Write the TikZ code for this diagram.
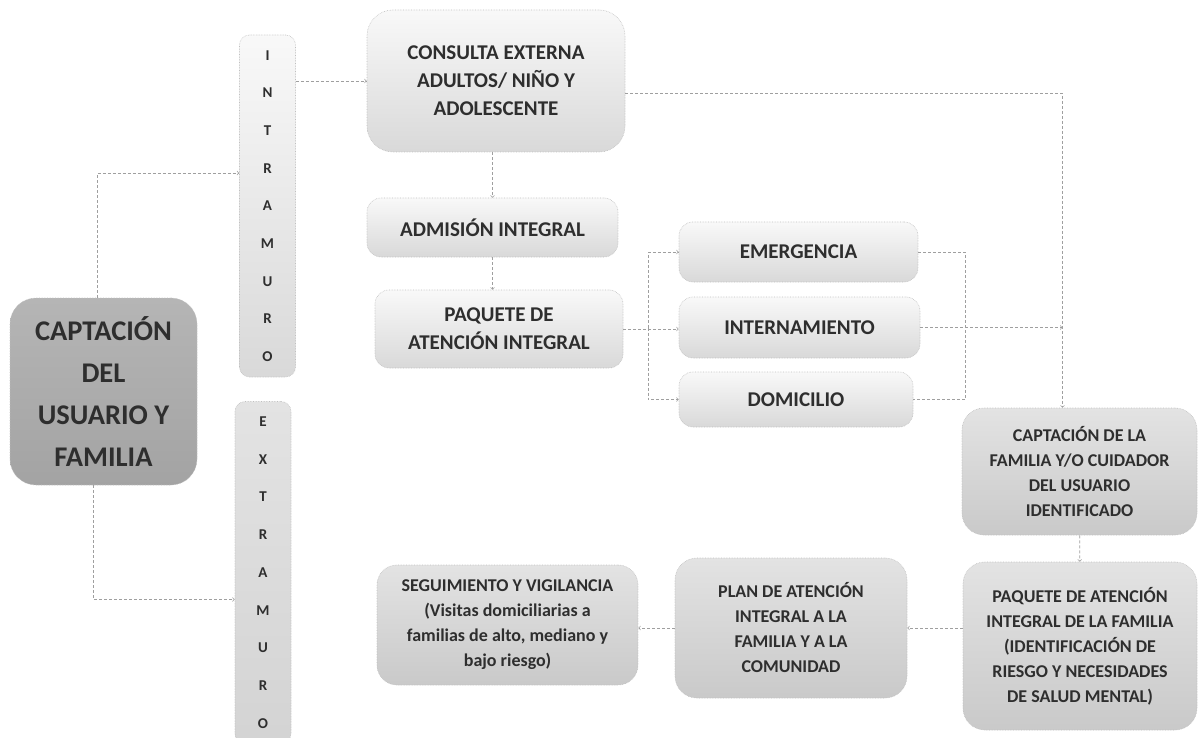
\documentclass[tikz,border=0pt]{standalone}
\usepackage{fontspec}
\setmainfont{Carlito}

\begin{document}
\begin{tikzpicture}[x=1pt, y=-1pt,
  box/.style={draw=gray!50, densely dotted, line width=0.6pt, rounded corners=14pt,
    top color=gray!5, bottom color=gray!30, text=black!82, align=center, inner sep=0pt,
    font=\fontsize{21}{28}\selectfont\bfseries},
  greybox/.style={box, top color=gray!22, bottom color=gray!42,
    font=\fontsize{18}{25}\selectfont\bfseries},
  mainbox/.style={box, rounded corners=26pt, top color=gray!58, bottom color=gray!72,
    text=black!82, font=\fontsize{28.5}{42}\selectfont\bfseries},
  strip/.style={box, rounded corners=10pt, minimum width=56pt, minimum height=342pt,
    font=\fontsize{15}{37.7}\selectfont\bfseries},
  link/.style={->, draw=gray!75, densely dashed, line width=0.7pt},
  line/.style={draw=gray!75, densely dashed, line width=0.7pt}]

  \useasboundingbox[fill=white] (0,0) rectangle (1202,738);

  \node[mainbox, minimum width=187pt, minimum height=187pt] (capt) at (103.5,391.5) {CAPTACIÓN\\DEL\\USUARIO Y\\FAMILIA};
  \node[strip] (intra) at (267.5,206) {I\\N\\T\\R\\A\\M\\U\\R\\O};
  \node[strip, top color=gray!22, bottom color=gray!34] (extra) at (263,572.5) {E\\X\\T\\R\\A\\M\\U\\R\\O};

  \node[box, rounded corners=26pt, minimum width=258pt, minimum height=142pt] (consulta) at (496,81) {CONSULTA EXTERNA\\ADULTOS/ NIÑO Y\\ADOLESCENTE};
  \node[box, minimum width=251pt, minimum height=59pt] (admision) at (492.5,227.5) {ADMISIÓN INTEGRAL};
  \node[box, minimum width=248pt, minimum height=78pt] (paquete) at (499,329) {PAQUETE DE\\ATENCIÓN INTEGRAL};

  \node[box, minimum width=239pt, minimum height=60pt] (emerg) at (798.5,252) {EMERGENCIA};
  \node[box, minimum width=241pt, minimum height=61pt] (intern) at (799.5,327.5) {INTERNAMIENTO};
  \node[box, minimum width=234pt, minimum height=55pt] (domic) at (796,399.5) {DOMICILIO};

  \node[greybox, rounded corners=22pt, minimum width=235pt, minimum height=127pt] (captfam) at (1079.5,471.5) {CAPTACIÓN DE LA\\FAMILIA Y/O CUIDADOR\\DEL USUARIO\\IDENTIFICADO};
  \node[greybox, rounded corners=22pt, minimum width=234pt, minimum height=168pt] (paqfam) at (1080,646) {PAQUETE DE ATENCIÓN\\INTEGRAL DE LA FAMILIA\\(IDENTIFICACIÓN DE\\RIESGO Y NECESIDADES\\DE SALUD MENTAL)};
  \node[greybox, rounded corners=22pt, minimum width=232pt, minimum height=140pt] (plan) at (791,628) {PLAN DE ATENCIÓN\\INTEGRAL A LA\\FAMILIA Y A LA\\COMUNIDAD};
  \node[greybox, rounded corners=20pt, minimum width=261pt, minimum height=120pt] (segui) at (507.5,625) {SEGUIMIENTO Y VIGILANCIA\\(Visitas domiciliarias a\\familias de alto, mediano y\\bajo riesgo)};

  \draw[link] ([xshift=-6pt]capt.north) |- ([yshift=33pt]intra.west);
  \draw[link] ([xshift=-10pt]capt.south) |- ([yshift=-27pt]extra.west);
  \draw[link] (intra.east |- consulta.west) -- (consulta.west);
  \draw[link] (admision.north |- consulta.south) -- (admision.north);
  \draw[link] (admision.south) -- (admision.south |- paquete.north);

  \coordinate (split) at ([xshift=25pt]paquete.east);
  \draw[link] (paquete.east) -- (paquete.east -| intern.west);
  \foreach \n in {emerg, domic}
    \draw[link] (split |- intern.west) |- (\n.west);
  \draw[line] (emerg.east) -| ([xshift=52pt]domic.east) -- (domic.east);

  \coordinate (drop) at ([xshift=-17pt]captfam.north);
  \draw[link] ([yshift=-12pt]consulta.east) -| (drop);
  \draw[link] (intern.east) -- (intern.east -| drop);
  \draw[link] (captfam) -- (paqfam);
  \draw[link] (paqfam.west |- plan.east) -- (plan.east);
  \draw[link] (plan.west) -- (plan.west -| segui.east);
\end{tikzpicture}
\end{document}
